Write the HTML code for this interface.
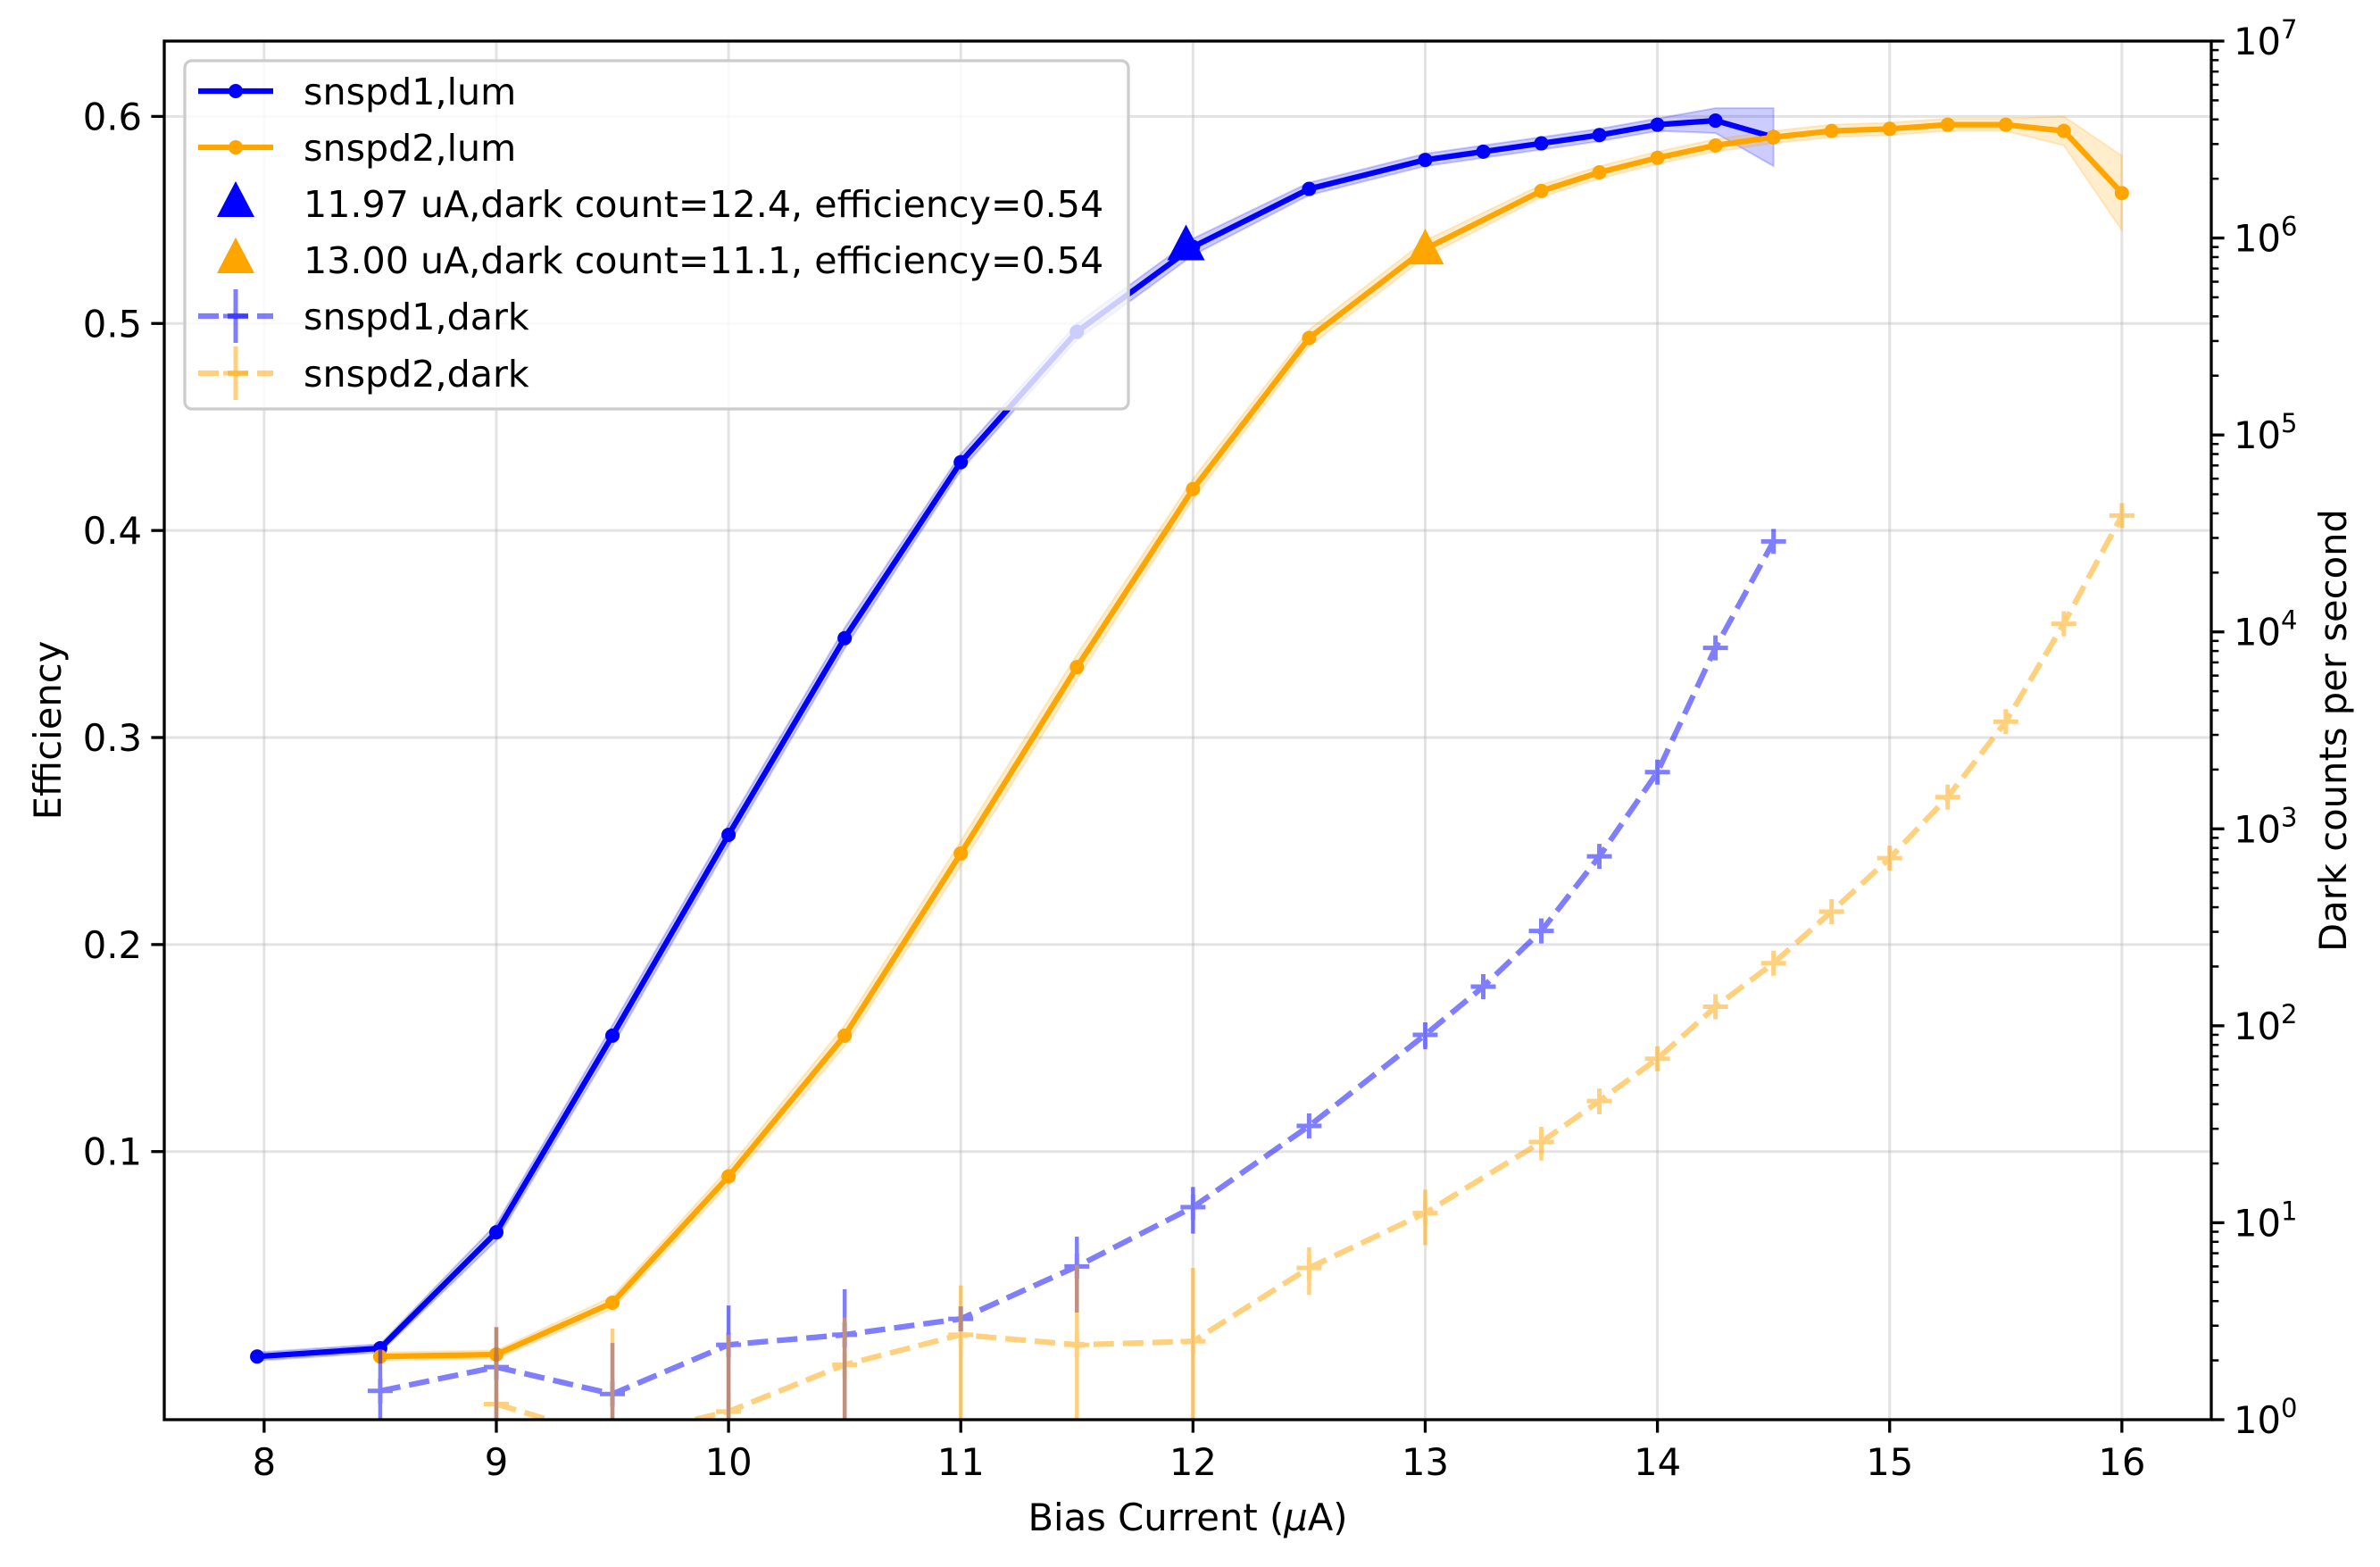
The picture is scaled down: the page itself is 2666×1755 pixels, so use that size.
<!DOCTYPE html>
<html><head><meta charset="utf-8">
<style>
html,body{margin:0;padding:0;background:#fff;}
svg{display:block;font-family:"DejaVu Sans","Liberation Sans",sans-serif;}
</style></head>
<body>
<svg id="chart" width="2666" height="1755" viewBox="0 0 2666 1755" xmlns="http://www.w3.org/2000/svg"></svg>
<script>
// ---- data ----
const xTicks = [8, 9, 10, 11, 12, 13, 14, 15, 16];
const yTicks = [0.1, 0.2, 0.3, 0.4, 0.5, 0.6];
const yTickLabels = ["0.1", "0.2", "0.3", "0.4", "0.5", "0.6"];
const logTicks = [0, 1, 2, 3, 4, 5, 6, 7];

const lum1X = [7.97, 8.5, 9, 9.5, 10, 10.5, 11, 11.5, 12, 12.5, 13, 13.25, 13.5, 13.75, 14, 14.25, 14.5];
const lum1Y = [0.001, 0.005, 0.061, 0.156, 0.253, 0.348, 0.433, 0.496, 0.537, 0.565, 0.579, 0.583, 0.587, 0.591, 0.596, 0.598, 0.590];
const lum1Err = [0.002, 0.002, 0.004, 0.005, 0.005, 0.005, 0.004, 0.004, 0.004, 0.003, 0.003, 0.003, 0.003, 0.003, 0.003, 0.006, 0.014];

const lum2X = [8.5, 9, 9.5, 10, 10.5, 11, 11.5, 12, 12.5, 13, 13.5, 13.75, 14, 14.25, 14.5, 14.75, 15, 15.25, 15.5, 15.75, 16];
const lum2Y = [0.001, 0.002, 0.027, 0.088, 0.156, 0.244, 0.334, 0.420, 0.493, 0.536, 0.564, 0.573, 0.580, 0.586, 0.590, 0.593, 0.594, 0.596, 0.596, 0.593, 0.563];
const lum2Err = [0.002, 0.002, 0.003, 0.004, 0.005, 0.006, 0.006, 0.005, 0.004, 0.004, 0.003, 0.003, 0.003, 0.003, 0.003, 0.003, 0.003, 0.003, 0.003, 0.007, 0.018];

const dark1X = [8.5, 9, 9.5, 10, 10.5, 11, 11.5, 12, 12.5, 13, 13.25, 13.5, 13.75, 14, 14.25, 14.5];
const dark1Y = [1.4, 1.85, 1.35, 2.4, 2.7, 3.25, 6.0, 12.0, 31, 90, 158, 303, 725, 1940, 8300, 28800];
const dark1Err = [1.1, 1.1, 1.1, 1.4, 1.9, 0.3, 2.5, 3.2, 4, 14, 15, 30, 60, 150, 500, 1500];

const dark2X = [9, 9.5, 10, 10.5, 11, 11.5, 12, 12.5, 13, 13.5, 13.75, 14, 14.25, 14.5, 14.75, 15, 15.25, 15.5, 15.75, 16];
const dark2Y = [1.2, 0.8, 1.1, 1.9, 2.7, 2.4, 2.5, 5.9, 11.2, 25.7, 41.5, 68, 125, 208, 380, 710, 1450, 3500, 11000, 39000];
const dark2Err = [1.75, 2.1, 1.6, 1.4, 2.1, 3.7, 3.4, 1.6, 3.5, 5, 6, 7, 12, 20, 30, 40, 80, 200, 500, 1000];

const markX = [11.97, 13.0];
const markY = [0.537, 0.535];
const legendLabels = ["snspd1,lum", "snspd2,lum", "11.97 uA,dark count=12.4, efficiency=0.54", "13.00 uA,dark count=11.1, efficiency=0.54", "snspd1,dark", "snspd2,dark"];

// ---- layout ----
const L = 184, R = 2477, T = 46, B = 1590;
const XMIN = 7.57, XMAX = 16.385, YMIN = -0.0295, YMAX = 0.6364;
const xs = v => L + (v - XMIN) / (XMAX - XMIN) * (R - L);
const ys = v => B - (v - YMIN) / (YMAX - YMIN) * (B - T);
const ls = v => B - (Math.log10(v) - 0) / 7 * (B - T);
const BLUE = "#0000ff", ORANGE = "#ffa500";
const svg = document.getElementById("chart");
const NS = "http://www.w3.org/2000/svg";
function mk(tag, attrs, parent) {
  const e = document.createElementNS(NS, tag);
  for (const k in attrs) e.setAttribute(k, attrs[k]);
  (parent || svg).appendChild(e);
  return e;
}
const defs = mk("defs", {});
const cp = mk("clipPath", {id: "plotclip"}, defs);
mk("rect", {x: L, y: T, width: R - L, height: B - T}, cp);

const grid = mk("g", {});  
xTicks.forEach(t => { const l = mk("line", {x1: xs(t), x2: xs(t), y1: T, y2: B, stroke: "#b0b0b0", "stroke-opacity": 0.35, "stroke-width": 3}, grid);
    });
yTicks.forEach(t => { const l = mk("line", {x1: L, x2: R, y1: ys(t), y2: ys(t), stroke: "#b0b0b0", "stroke-opacity": 0.35, "stroke-width": 3}, grid);
    });

const plot = mk("g", {"clip-path": "url(#plotclip)"});
 

function band(X, Y, E, color, name) {
  let d = X.map((x, i) => (i ? "L" : "M") + xs(x) + "," + ys(Y[i] + E[i])).join("");
  for (let i = X.length - 1; i >= 0; i--) d += "L" + xs(X[i]) + "," + ys(Y[i] - E[i]);
  const p = mk("path", {d: d + "Z", fill: color, "fill-opacity": 0.2, stroke: color, "stroke-opacity": 0.2, "stroke-width": 2}, plot);
   
}
function lumLine(X, Y, color, name) {
  const pts = X.map((x, i) => xs(x) + "," + ys(Y[i])).join(" ");
  const pl = mk("polyline", {points: pts, fill: "none", stroke: color, "stroke-width": 6.25, "stroke-linejoin": "round"}, plot);
   
  X.forEach((x, i) => { const c = mk("circle", {cx: xs(x), cy: ys(Y[i]), r: 8, fill: color}, plot);
      });
}
function darkLine(X, Y, E, color, name) {
  const g = mk("g", {opacity: 0.5}, plot);
   
  X.forEach((x, i) => {
    const lo = Y[i] - E[i];
    const y1 = lo > 0 ? ls(lo) : B + 50;
    const eb = mk("line", {x1: xs(x), x2: xs(x), y1: y1, y2: ls(Y[i] + E[i]), stroke: color, "stroke-width": 4.5}, g);
     
  });
  const pl = mk("polyline", {points: X.map((x, i) => xs(x) + "," + ls(Y[i])).join(" "), fill: "none", stroke: color, "stroke-width": 6.25, "stroke-dasharray": "23 10"}, g);
   
  X.forEach((x, i) => {
    const cx = xs(x), cy = ls(Y[i]);
    const m = mk("path", {d: `M${cx-14},${cy}H${cx+14}M${cx},${cy-14}V${cy+14}`, stroke: color, "stroke-width": 5}, g);
     
  });
}
band(lum1X, lum1Y, lum1Err, BLUE, 'snspd1-lum-band');
band(lum2X, lum2Y, lum2Err, ORANGE, 'snspd2-lum-band');
lumLine(lum1X, lum1Y, BLUE, 'snspd1-lum');
lumLine(lum2X, lum2Y, ORANGE, 'snspd2-lum');
const triColors = [BLUE, ORANGE];
markX.forEach((x, i) => {
  const cx = xs(x), cy = ys(markY[i]);
  const t = mk("path", {d: `M${cx},${cy-25}L${cx+21},${cy+15}L${cx-21},${cy+15}Z`, fill: triColors[i]}, plot);
   
});
darkLine(dark1X, dark1Y, dark1Err, BLUE, 'snspd1-dark');
darkLine(dark2X, dark2Y, dark2Err, ORANGE, 'snspd2-dark');

const sp = mk("rect", {x: L, y: T, width: R - L, height: B - T, fill: "none", stroke: "#000", "stroke-width": 3.3});
 

xTicks.forEach(t => {
  mk("line", {x1: xs(t), x2: xs(t), y1: B, y2: B + 14.6, stroke: "#000", "stroke-width": 3.3});
  const tx = mk("text", {x: xs(t), y: B + 62, "font-size": 41.7, "text-anchor": "middle"});
  tx.textContent = t;
   
});
yTicks.forEach((t, i) => {
  mk("line", {x1: L, x2: L - 14.6, y1: ys(t), y2: ys(t), stroke: "#000", "stroke-width": 3.3});
  const tx = mk("text", {x: L - 25, y: ys(t) + 15, "font-size": 41.7, "text-anchor": "end"});
  tx.textContent = yTickLabels[i];
   
});
logTicks.forEach(p => {
  mk("line", {x1: R, x2: R + 14.6, y1: ls(Math.pow(10, p)), y2: ls(Math.pow(10, p)), stroke: "#000", "stroke-width": 3.3});
  const tx = mk("text", {x: R + 25, y: ls(Math.pow(10, p)) + 15, "font-size": 41.7});
   
  tx.textContent = "10";
  const sup = mk("tspan", {dy: -18, "font-size": 29}, tx); sup.textContent = p;
  if (p < 7) for (let k = 2; k <= 9; k++) {
    const yy = ls(k * Math.pow(10, p));
    mk("line", {x1: R, x2: R + 8.3, y1: yy, y2: yy, stroke: "#000", "stroke-width": 2.5});
  }
});
let t1 = mk("text", {x: (L + R) / 2, y: 1714, "font-size": 41.7, "text-anchor": "middle"});
t1.innerHTML = 'Bias Current (<tspan font-style="italic">μ</tspan>A)';
 
let t2 = mk("text", {x: 0, y: 0, "font-size": 41.7, "text-anchor": "middle", transform: `translate(68,${(T + B) / 2}) rotate(-90)`});
t2.textContent = "Efficiency";
 
let t3 = mk("text", {x: 0, y: 0, "font-size": 41.7, "text-anchor": "middle", transform: `translate(2628,${(T + B) / 2}) rotate(-90)`});
t3.textContent = "Dark counts per second";
 

const lg = mk("g", {});
 
mk("rect", {x: 207, y: 68, width: 1057, height: 390, rx: 8, fill: "#fff", "fill-opacity": 0.8, stroke: "#cccccc", "stroke-width": 3.3}, lg);
const legY = [102, 165, 228, 291, 354, 418];
legendLabels.forEach((lab, i) => {
  const y = legY[i];
  const e = mk("g", {}, lg);
   
  if (i < 2) {
    const c = i == 0 ? BLUE : ORANGE;
    mk("line", {x1: 222, x2: 306, y1: y, y2: y, stroke: c, "stroke-width": 6.25}, e);
    mk("circle", {cx: 264, cy: y, r: 8, fill: c}, e);
  } else if (i < 4) {
    const c = i == 2 ? BLUE : ORANGE;
    mk("path", {d: `M264,${y-25}L285,${y+15}L243,${y+15}Z`, fill: c}, e);
  } else {
    const c = i == 4 ? BLUE : ORANGE;
    mk("line", {x1: 222, x2: 306, y1: y, y2: y, stroke: c, "stroke-width": 6.25, "stroke-dasharray": "23 10", opacity: 0.5}, e);
    mk("path", {d: `M250,${y}H278M264,${y-30}V${y+30}`, stroke: c, "stroke-width": 5, opacity: 0.5}, e);
  }
  const tx = mk("text", {x: 340, y: y + 15, "font-size": 41.2}, e);
  tx.textContent = lab;
});
</script>
</body></html>
